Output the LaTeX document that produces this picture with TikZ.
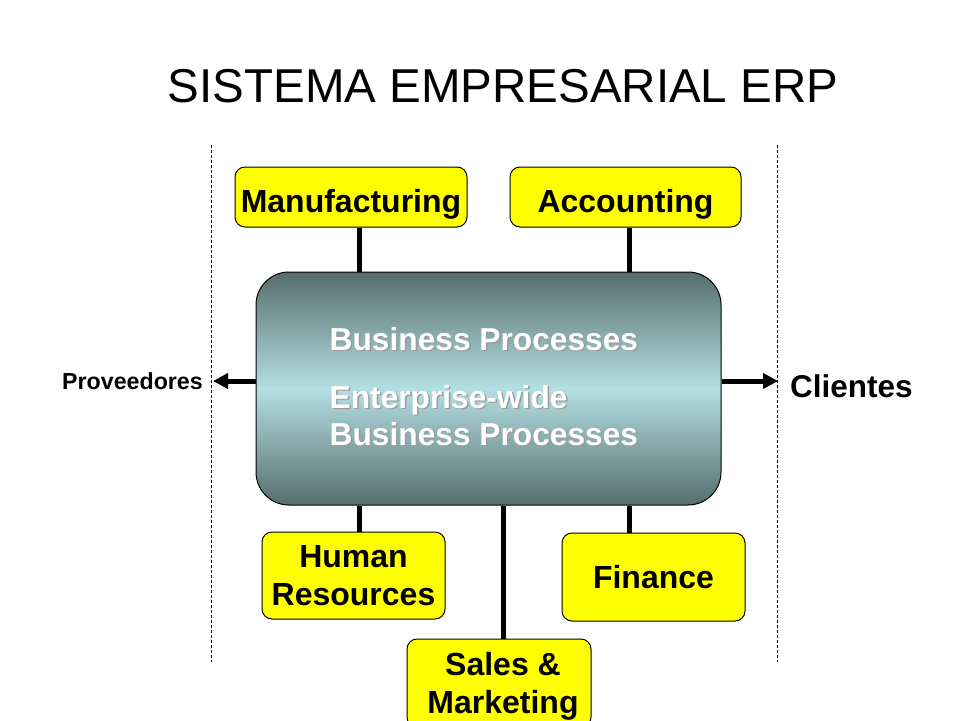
\documentclass[tikz,border=0pt]{standalone}
\usepackage{fontspec}
\setmainfont{Liberation Sans}
\usetikzlibrary{arrows.meta}
\definecolor{boxyellow}{HTML}{FFFF00}
\definecolor{slatedark}{HTML}{566D6D}
\definecolor{slatelight}{HTML}{B4DFE3}
\definecolor{shadowgray}{HTML}{9A9A9A}
\tikzset{
  ybox/.style={draw=black, line width=1pt, fill=boxyellow, rounded corners=10pt,
    font=\fontsize{32}{38}\selectfont\bfseries, align=center, inner sep=0pt},
  conn/.style={line width=5pt, black},
  arr/.style={line width=5pt, black, -{Triangle[length=15pt,width=15pt]}},
  dashline/.style={line width=0.8pt, dash pattern=on 3pt off 2pt, black},
  ctext/.style={anchor=base west, font=\fontsize{31.7}{37}\selectfont\bfseries, inner sep=0pt},
}
\begin{document}
\begin{tikzpicture}[x=1pt,y=-1pt]
\useasboundingbox (0,0) rectangle (960,720);
\clip (0,0) rectangle (960,720);
% title
\node[anchor=base, inner sep=0pt, font=\fontsize{47.5}{57}\selectfont] (title) at (503,102) {SISTEMA EMPRESARIAL ERP};
% dashed borders
\coordinate (dlt) at (211,145);
\coordinate (dlb) at (211,662);
\coordinate (drt) at (777,145);
\coordinate (drb) at (777,662);
\draw[dashline] (dlt) -- (dlb);
\draw[dashline] (drt) -- (drb);
% central box
\node[draw=black, line width=1pt, rounded corners=33pt, minimum width=465pt, minimum height=233pt,
  top color=slatedark, bottom color=slatedark, middle color=slatelight, inner sep=0pt] (erp) at (488.5,388.5) {};
% modules
\node[ybox, minimum width=232pt, minimum height=60pt, text height=37pt, text depth=6.7pt] (man) at (351,197) {Manufacturing};
\node[ybox, minimum width=231pt, minimum height=60pt, text height=37pt, text depth=6.7pt] (acc) at (625.5,197) {Accounting};
\node[ybox, minimum width=183pt, minimum height=87pt] (hr) at (353.5,575.5) {Human\\Resources};
\node[ybox, minimum width=183pt, minimum height=88pt] (fin) at (653.5,577) {Finance};
\node[ybox, minimum width=184pt, minimum height=88pt, text depth=0pt] (sal) at (499,683) {\hspace*{8pt}Sales \&\\\hspace*{8pt}Marketing};
% connectors
\draw[conn] ([xshift=8pt]man.south) -- ([xshift=8pt]man.south |- erp.north);
\draw[conn] ([xshift=3.5pt]acc.south) -- ([xshift=3.5pt]acc.south |- erp.north);
\draw[conn] ([xshift=5.5pt]hr.north) -- ([xshift=5.5pt]hr.north |- erp.south);
\draw[conn] ([xshift=-24.5pt]fin.north) -- ([xshift=-24.5pt]fin.north |- erp.south);
\draw[conn] ([xshift=4pt]sal.north) -- ([xshift=4pt]sal.north |- erp.south);
% arrows
\coordinate (la) at (213,381);
\coordinate (ra) at (778,381);
\draw[arr] ([yshift=7.5pt]erp.west) -- ([yshift=7.5pt]erp.west -| la);
\draw[arr] ([yshift=7.5pt]erp.east) -- ([yshift=7.5pt]erp.east -| ra);
% side labels
\node[anchor=base east, inner sep=0pt, font=\fontsize{23.2}{27}\selectfont\bfseries] (prov) at (203,389) {Proveedores};
\node[anchor=base west, inner sep=0pt, font=\fontsize{31.5}{36}\selectfont\bfseries] (cli) at (790,397) {Clientes};
% central texts with shadow
\node[ctext, text=shadowgray] (s1) at (331,351.5) {Business Processes};
\node[ctext, text=white] (t1) at (329.5,350) {Business Processes};
\node[ctext, text=shadowgray] (s2) at (331,409.5) {Enterprise-wide};
\node[ctext, text=white] (t2) at (329.5,408) {Enterprise-wide};
\node[ctext, text=shadowgray] (s3) at (331,446.5) {Business Processes};
\node[ctext, text=white] (t3) at (329.5,445) {Business Processes};
\end{tikzpicture}
\end{document}
